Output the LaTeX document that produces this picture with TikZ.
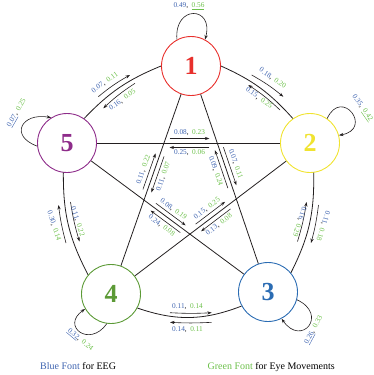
\documentclass[tikz,border=0pt]{standalone}
\usepackage{fontspec}
\setmainfont{Liberation Serif}
\usetikzlibrary{arrows.meta,calc}
\definecolor{cred}{HTML}{E8302C}
\definecolor{cyellow}{HTML}{F0E330}
\definecolor{cblue}{HTML}{2B6CB3}
\definecolor{cgreen}{HTML}{5C9A36}
\definecolor{cpurple}{HTML}{8E2C8A}
\definecolor{lblue}{HTML}{3F64B0}
\definecolor{lgreen}{HTML}{6CC04A}
\definecolor{lineblack}{HTML}{231F20}
\newcommand{\lb}[2]{\textcolor{lblue}{#1},\hspace{3.5pt}\textcolor{lgreen}{#2}}
\begin{document}
\begin{tikzpicture}[x=1pt,y=1pt,
  state/.style={circle,draw,line width=0.9pt,minimum size=59pt,inner sep=0pt,font=\fontsize{26}{26}\selectfont\bfseries},
  conn/.style={draw=lineblack,line width=0.8pt},
  arr/.style={draw=lineblack,line width=0.6pt,-{Stealth[length=4.5pt,width=3.2pt]}},
  lab/.style={font=\fontsize{7.3}{8}\selectfont,inner sep=0pt},
  legend/.style={font=\fontsize{10}{12}\selectfont,inner sep=0pt}]
\useasboundingbox (0,0) rectangle (373,-375);
% states
\node[state,draw=cred,text=cred] (n1) at (191,-66) {1};
\node[state,draw=cyellow,text=cyellow] (n2) at (310,-143) {2};
\node[state,draw=cblue,text=cblue] (n3) at (268,-292) {3};
\node[state,draw=cgreen,text=cgreen] (n4) at (111,-294) {4};
\node[state,draw=cpurple,text=cpurple] (n5) at (67,-143) {5};
% outer connectors
\draw[conn] (n5.55) to[bend left=12] (n1.180);
\draw[conn] (n1.0) to[bend left=12] (n2.125);
\draw[conn] (n2.277) to[bend left=14] (n3.40);
\draw[conn] (n3.208) to[bend left=20] (n4.332);
\draw[conn] (n4.140) to[bend left=14] (n5.263);
% star connectors
\draw[conn] (n1) -- (n3);
\draw[conn] (n1) -- (n4);
\draw[conn] (n2) -- (n5);
\draw[conn] (n2) -- (n4);
\draw[conn] (n3) -- (n5);
% self loops
\draw[arr] (n1.118) .. controls +(95:35) and +(75:35) .. (n1.62);
\node[lab] (l11) at (189,-6) {\lb{0.49}{\underline{0.56}}};
\draw[arr] (n2.55) .. controls +(65:35) and +(10:35) .. (n2.15);
\node[lab,rotate=-55] (l22) at (362,-108) {\lb{0.35}{\underline{0.42}}};
\draw[arr] (n3.-15) .. controls +(-25:35) and +(-55:35) .. (n3.-63);
\node[lab,rotate=62] (l33) at (314,-330) {\lb{\underline{0.26}}{0.33}};
\draw[arr] (n4.262) .. controls +(235:30) and +(215:30) .. (n4.210);
\node[lab,rotate=-40] (l44) at (80,-340) {\lb{\underline{0.32}}{0.24}};
\draw[arr] (n5.186) .. controls +(160:30) and +(170:30) .. (n5.122);
\node[lab,rotate=60] (l55) at (17,-113) {\lb{\underline{0.07}}{0.25}};
% 5 - 1
\draw[arr] (98.3,-96.7) to[bend left=5] (130,-75);
\node[lab,rotate=36] (l51) at (105,-82.5) {\lb{0.07}{0.11}};
\draw[arr] (135,-83.3) to[bend right=5] (103.3,-108.3);
\node[lab,rotate=36] (l15) at (122.5,-100) {\lb{0.16}{0.05}};
% 1 - 2
\draw[arr] (251.7,-75) to[bend left=5] (283.3,-96.7);
\node[lab,rotate=-35] (l12) at (272.5,-78.3) {\lb{0.18}{0.20}};
\draw[arr] (280,-110) to[bend right=5] (248.3,-85);
\node[lab,rotate=-35] (l21) at (259,-98) {\lb{0.15}{0.25}};
% 2 - 3
\draw[arr] (318.5,-205) to[bend left=4] (311,-243);
\node[lab,rotate=-108] (l23) at (323,-226) {\lb{0.11}{0.18}};
\draw[arr] (297.5,-241.5) to[bend right=4] (306.5,-202);
\node[lab,rotate=-108] (l32) at (299.5,-221.7) {\lb{0.16}{0.29}};
% 4 - 3
\draw[arr] (170,-312.7) to[bend right=3] (211.7,-312.7);
\node[lab] (l43) at (187.5,-306.5) {\lb{0.11}{0.14}};
\draw[arr] (211.7,-322.3) to[bend left=3] (170,-322.3);
\node[lab] (l34) at (187.5,-330) {\lb{0.14}{0.11}};
% 5 - 4
\draw[arr] (66,-243) to[bend left=4] (58.5,-205);
\node[lab,rotate=-72] (l45) at (54,-226) {\lb{0.30}{0.14}};
\draw[arr] (70.5,-202) to[bend right=4] (79.5,-241.5);
\node[lab,rotate=-72] (l54) at (77.5,-221.7) {\lb{0.11}{0.22}};
% 5 - 2
\draw[arr] ($(n5)!0.422!(n2)!4.5pt!90:(n2)$) -- ($(n5)!0.586!(n2)!4.5pt!90:(n2)$);
\draw[arr] ($(n5)!0.586!(n2)!4.5pt!-90:(n2)$) -- ($(n5)!0.422!(n2)!4.5pt!-90:(n2)$);
\node[lab] (l52) at ($(n5)!0.504!(n2)!10pt!90:(n2)$) {\lb{0.08}{0.23}};
\node[lab] (l25) at ($(n5)!0.504!(n2)!10pt!-90:(n2)$) {\lb{0.25}{0.06}};
% 1 - 3
\draw[arr] ($(n1)!0.366!(n3)!4.5pt!90:(n3)$) -- ($(n1)!0.534!(n3)!4.5pt!90:(n3)$);
\draw[arr] ($(n1)!0.534!(n3)!4.5pt!-90:(n3)$) -- ($(n1)!0.366!(n3)!4.5pt!-90:(n3)$);
\node[lab,rotate=-71.2] (l13) at ($(n1)!0.45!(n3)!10.5pt!90:(n3)$) {\lb{0.07}{0.11}};
\node[lab,rotate=-71.2] (l31) at ($(n1)!0.45!(n3)!10.5pt!-90:(n3)$) {\lb{0.09}{0.24}};
% 1 - 4
\draw[arr] ($(n1)!0.39!(n4)!4.5pt!90:(n4)$) -- ($(n1)!0.548!(n4)!4.5pt!90:(n4)$);
\draw[arr] ($(n1)!0.548!(n4)!4.5pt!-90:(n4)$) -- ($(n1)!0.39!(n4)!4.5pt!-90:(n4)$);
\node[lab,rotate=70.7] (l14) at ($(n1)!0.469!(n4)!10.5pt!90:(n4)$) {\lb{0.11}{0.07}};
\node[lab,rotate=70.7] (l41) at ($(n1)!0.469!(n4)!10.5pt!-90:(n4)$) {\lb{0.11}{0.22}};
% 5 - 3
\draw[arr] ($(n5)!0.429!(n3)!4.5pt!90:(n3)$) -- ($(n5)!0.577!(n3)!4.5pt!90:(n3)$);
\draw[arr] ($(n5)!0.577!(n3)!4.5pt!-90:(n3)$) -- ($(n5)!0.429!(n3)!4.5pt!-90:(n3)$);
\node[lab,rotate=-36.6] (l53) at ($(n5)!0.5!(n3)!10pt!90:(n3)$) {\lb{0.08}{0.19}};
\node[lab,rotate=-36.6] (l35) at ($(n5)!0.5!(n3)!10pt!-90:(n3)$) {\lb{0.24}{0.08}};
% 4 - 2
\draw[arr] ($(n4)!0.439!(n2)!4.5pt!90:(n2)$) -- ($(n4)!0.587!(n2)!4.5pt!90:(n2)$);
\draw[arr] ($(n4)!0.587!(n2)!4.5pt!-90:(n2)$) -- ($(n4)!0.439!(n2)!4.5pt!-90:(n2)$);
\node[lab,rotate=37.2] (l42) at ($(n4)!0.513!(n2)!10pt!90:(n2)$) {\lb{0.15}{0.25}};
\node[lab,rotate=37.2] (l24) at ($(n4)!0.513!(n2)!10pt!-90:(n2)$) {\lb{0.13}{0.08}};
% legend
\node[legend,anchor=base west] (leg1) at (40,-369.5) {\textcolor{lblue}{Blue Font} for EEG};
\node[legend,anchor=base east] (leg2) at (335,-369.5) {\textcolor{lgreen}{Green Font} for Eye Movements};
\end{tikzpicture}
\end{document}
